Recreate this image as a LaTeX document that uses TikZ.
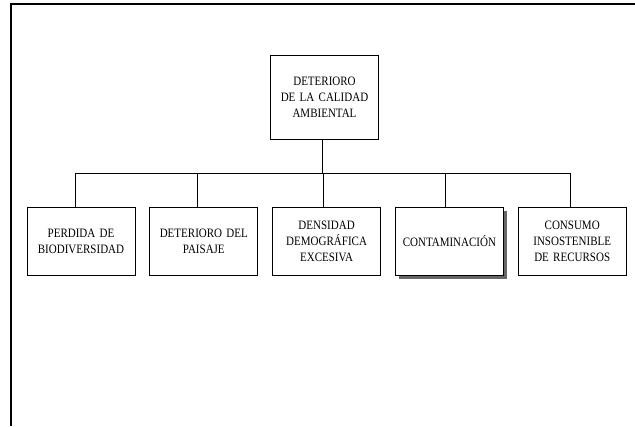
\documentclass[tikz,border=0pt]{standalone}
\usepackage{fontspec}
\setmainfont{Liberation Serif}[FakeStretch=0.86]
\usepackage{tikz}
\usetikzlibrary{positioning,shadows}

\begin{document}
\begin{tikzpicture}[
  x=1bp, y=-1bp,
  node distance=14bp,
  box/.style={draw, line width=0.8bp, align=center, inner sep=2bp,
              font=\fontsize{12.8bp}{16bp}\selectfont,
              minimum width=108bp, text width=104bp},
  topbox/.style={box, minimum width=107bp, minimum height=84bp},
  leaf/.style={box, minimum height=68bp},
  shade/.style={drop shadow={shadow xshift=3.5bp, shadow yshift=-3.5bp,
                             fill=black!60, opacity=1}},
  link/.style={line width=0.8bp, black}
]
\useasboundingbox (0,0) rectangle (635,426);
% frame
\draw[line width=1.2bp] (635,4) -- (11,4) -- (11,426);

\node[topbox] (amb) at (324.5,97) {DETERIORO\\DE LA CALIDAD\\AMBIENTAL};
\node[leaf] (bio) at (81,241) {PERDIDA DE\\BIODIVERSIDAD};
\node[leaf, right=of bio] (pai) {DETERIORO DEL\\PAISAJE};
\node[leaf, right=of pai] (dem) {DENSIDAD\\DEMOGR\'AFICA\\EXCESIVA};
\node[leaf, right=of dem, fill=white, shade] (con) {CONTAMINACI\'ON};
\node[leaf, right=of con] (rec) {CONSUMO\\INSOSTENIBLE\\DE RECURSOS};

\coordinate (bar) at (0,173);
\draw[link] ([xshift=-2.5bp]amb.south) -- ([xshift=-2.5bp]amb.south |- bar);
\draw[link] ([xshift=-6bp]bio.north |- bar) -- ([xshift=-1.5bp]rec.north |- bar);
\foreach \n/\d in {bio/-6, pai/-6, dem/-3, con/-4, rec/-1.5}
  \draw[link] ([xshift=\d bp]\n.north) -- ([xshift=\d bp]\n.north |- bar);
\end{tikzpicture}
\end{document}
